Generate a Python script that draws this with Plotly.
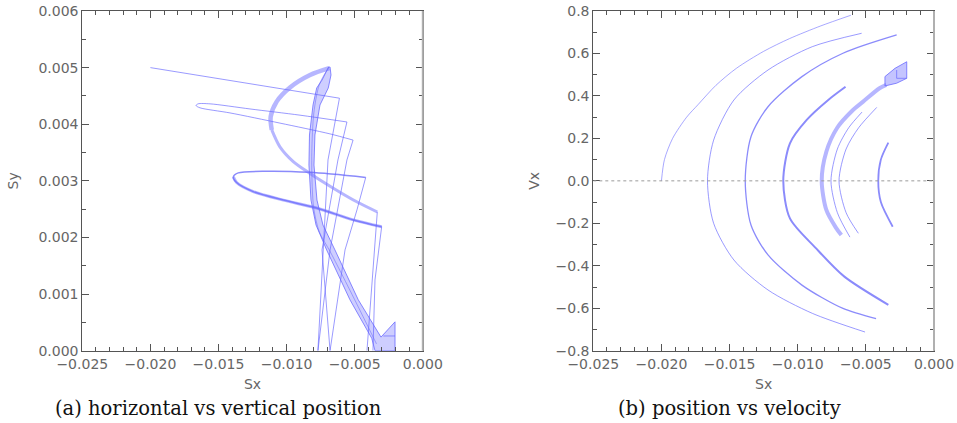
import plotly.graph_objects as go

# ---------------- Panel (a): horizontal vs vertical position ----------------
# thin trajectory starting at (-0.020, 0.005)
t1_sx = [-0.02000, -0.00612, -0.00696, -0.00770]
t1_sy = [0.00500, 0.00446, 0.00337, 0.0]

# thin upper loop and its two descents
loop1_sx = [-0.00557, -0.00902, -0.01269, -0.01562, -0.01650, -0.01665, -0.01636, -0.01416, -0.01049, -0.00682, -0.00512]
loop1_sy = [0.00404, 0.00416, 0.00427, 0.00436, 0.00436, 0.00433, 0.00429, 0.00420, 0.00402, 0.00383, 0.00372]
desc2_sx = [-0.00557, -0.00623, -0.00740, -0.00681]
desc2_sy = [0.00404, 0.00337, 0.00178, 0.0]
desc3_sx = [-0.00512, -0.00557, -0.00681, -0.00770]
desc3_sy = [0.00372, 0.00337, 0.00178, 0.0]

# thick "C" band from the peak, and its descent
c_top_sx = [-0.00687, -0.00828, -0.00975, -0.01073, -0.01117, -0.01109]
c_top_sy = [0.00499, 0.00487, 0.00465, 0.00440, 0.00413, 0.00390]
c_mid_sx = [-0.01109, -0.01049, -0.00951, -0.00828, -0.00657, -0.00485, -0.00334]
c_mid_sy = [0.00390, 0.00360, 0.00334, 0.00313, 0.00287, 0.00263, 0.00245]
c_down_sx = [-0.00334, -0.00373, -0.00410]
c_down_sy = [0.00245, 0.00125, 0.0]

# lower loop and its descents
loop2_sx = [-0.00419, -0.00828, -0.01146, -0.01355, -0.01391, -0.01367, -0.01245, -0.01024, -0.00779, -0.00510, -0.00302]
loop2_sy = [0.00306, 0.00315, 0.00317, 0.00314, 0.00307, 0.00297, 0.00281, 0.00266, 0.00252, 0.00231, 0.00219]
loop2_thick_sx = [-0.01391, -0.01367, -0.01245, -0.01024, -0.00779, -0.00510, -0.00302]
loop2_thick_sy = [0.00307, 0.00297, 0.00281, 0.00266, 0.00252, 0.00231, 0.00219]
desc4_sx = [-0.00419, -0.00483, -0.00571, -0.00681]
desc4_sy = [0.00306, 0.00249, 0.00178, 0.0]
desc6_sx = [-0.00302, -0.00351, -0.00366]
desc6_sy = [0.00219, 0.00125, 0.0]

# broad falling band (outline) ending in the filled corner
band_sx = [-0.00692, -0.00740, -0.00779, -0.00806, -0.00832, -0.00836, -0.00821, -0.00784, -0.00706,
           -0.00535, -0.00375, -0.00351, -0.00204, -0.00204, -0.00307, -0.00474, -0.00645, -0.00733,
           -0.00777, -0.00799, -0.00792, -0.00755, -0.00694, -0.00674, -0.00681, -0.00692]
band_sy = [0.00501, 0.00478, 0.00464, 0.00434, 0.00381, 0.00328, 0.00266, 0.00222, 0.00178,
           0.00090, 0.00022, 0.0, 0.0, 0.00051, 0.00024, 0.00090, 0.00178, 0.00222,
           0.00266, 0.00328, 0.00381, 0.00434, 0.00464, 0.00487, 0.00501, 0.00501]
band_mid_sx = [-0.00690, -0.00760, -0.00800, -0.00815, -0.00812, -0.00800, -0.00760, -0.00680, -0.00500, -0.00340]
band_mid_sy = [0.00501, 0.00470, 0.00420, 0.00350, 0.00290, 0.00250, 0.00210, 0.00175, 0.00090, 0.00012]
corner_sx = [-0.00290, -0.00204]
corner_sy = [0.00026, 0.00026]

# ---------------- Panel (b): position vs velocity ----------------
arcA_sx = [-0.02000, -0.01978, -0.01918, -0.01815, -0.01730, -0.01600, -0.01450, -0.01250, -0.01060, -0.00830, -0.00610]
arcA_vx = [0.0, 0.10, 0.20, 0.30, 0.36, 0.45, 0.53, 0.61, 0.67, 0.73, 0.78]

arcB_sx = [-0.00531, -0.00893, -0.01218, -0.01468, -0.01617, -0.01662, -0.01617, -0.01468, -0.01218, -0.00893, -0.00506]
arcB_vx = [0.695, 0.632, 0.522, 0.381, 0.192, 0.0, -0.200, -0.373, -0.514, -0.624, -0.712]

arcC_sx = [-0.00274, -0.00668, -0.00969, -0.01218, -0.01343, -0.01385, -0.01343, -0.01218, -0.00969, -0.00668, -0.00425]
arcC_vx = [0.687, 0.601, 0.491, 0.349, 0.208, 0.0, -0.208, -0.349, -0.491, -0.601, -0.649]

arcD_sx = [-0.00649, -0.00776, -0.00934, -0.01057, -0.01106, -0.01057, -0.00865, -0.00660, -0.00335]
arcD_vx = [0.443, 0.381, 0.287, 0.177, 0.0, -0.177, -0.318, -0.450, -0.584]

arcE_sx = [-0.00680, -0.00720, -0.00790, -0.00824, -0.00790, -0.00710, -0.00600, -0.00520, -0.00400, -0.00350]
arcE_vx = [-0.255, -0.220, -0.137, 0.0, 0.137, 0.250, 0.330, 0.373, 0.436, 0.452]

arcF_sx = [-0.00528, -0.00626, -0.00709, -0.00756, -0.00709, -0.00617]
arcF_vx = [0.324, 0.250, 0.150, 0.0, -0.150, -0.265]

arcG_sx = [-0.00420, -0.00553, -0.00645, -0.00697, -0.00645, -0.00555]
arcG_vx = [0.346, 0.250, 0.150, 0.0, -0.150, -0.247]

arcH_sx = [-0.00335, -0.00390, -0.00409, -0.00390, -0.00303]
arcH_vx = [0.180, 0.100, 0.0, -0.100, -0.216]

blob_sx = [-0.00360, -0.00360, -0.00286, -0.00200, -0.00200, -0.00274, -0.00360]
blob_vx = [0.447, 0.491, 0.530, 0.561, 0.483, 0.460, 0.447]
blob_l_sx = [-0.00274, -0.00274, -0.00200]
blob_l_vx = [0.522, 0.483, 0.483]

THIN = 'rgba(100,100,255,0.65)'
MID = 'rgba(100,100,250,0.75)'
HATCH = 'rgba(110,110,255,0.5)'

W, H = 957, 423


def px_x(p):
    return p / W


def px_y(p):
    return 1 - p / H


fig = go.Figure()


def add_line(xs, ys, width, color, axes='1', shape='linear'):
    fig.add_trace(go.Scatter(
        x=xs, y=ys, mode='lines', line=dict(color=color, width=width, shape=shape, smoothing=0.8),
        xaxis='x' if axes == '1' else 'x2', yaxis='y' if axes == '1' else 'y2',
        showlegend=False, hoverinfo='skip'))


# panel (a)
fig.add_trace(go.Scatter(x=band_sx, y=band_sy, mode='lines', fill='toself',
                         fillcolor='rgba(125,125,255,0.38)',
                         line=dict(color='rgba(100,100,255,0.75)', width=1),
                         showlegend=False, hoverinfo='skip'))
add_line(band_mid_sx, band_mid_sy, 1, 'rgba(100,100,250,0.5)', shape='spline')
add_line(corner_sx, corner_sy, 1, THIN)
add_line(t1_sx, t1_sy, 1, THIN)
add_line(loop1_sx, loop1_sy, 1, THIN, shape='spline')
add_line(desc2_sx, desc2_sy, 1, THIN)
add_line(desc3_sx, desc3_sy, 1, THIN)
add_line(loop2_sx, loop2_sy, 1.5, MID, shape='spline')
add_line(loop2_thick_sx, loop2_thick_sy, 3, HATCH, shape='spline')
add_line(desc4_sx, desc4_sy, 1, THIN)
add_line(desc6_sx, desc6_sy, 1, THIN)
add_line(c_top_sx, c_top_sy, 4.5, HATCH, shape='spline')
add_line(c_mid_sx, c_mid_sy, 3, HATCH, shape='spline')
add_line(c_down_sx, c_down_sy, 1, THIN)

# panel (b)
fig.add_trace(go.Scatter(x=blob_sx, y=blob_vx, mode='lines', fill='toself',
                         fillcolor='rgba(125,125,255,0.45)',
                         line=dict(color='rgba(100,100,255,0.75)', width=1),
                         xaxis='x2', yaxis='y2', showlegend=False, hoverinfo='skip'))
add_line(blob_l_sx, blob_l_vx, 1, THIN, '2')
add_line(arcA_sx, arcA_vx, 1, 'rgba(110,110,255,0.6)', '2', 'spline')
add_line(arcB_sx, arcB_vx, 1, THIN, '2', 'spline')
add_line(arcC_sx, arcC_vx, 1.3, MID, '2', 'spline')
add_line(arcD_sx, arcD_vx, 2, MID, '2', 'spline')
add_line(arcE_sx, arcE_vx, 4, HATCH, '2', 'spline')
add_line(arcF_sx, arcF_vx, 1, THIN, '2', 'spline')
add_line(arcG_sx, arcG_vx, 1, THIN, '2', 'spline')
add_line(arcH_sx, arcH_vx, 1.8, MID, '2', 'spline')

AX = '#555555'
TICKFONT = dict(family='DejaVu Sans', size=14, color='#666666')


def axis(domain, rng, dtick, minor, fmt, title, standoff, anchor):
    return dict(domain=domain, range=rng, dtick=dtick, tick0=rng[0], tickformat=fmt,
                showline=True, linecolor=AX, linewidth=1, mirror='ticks',
                ticks='inside', ticklen=7, tickcolor=AX, tickwidth=1,
                ticklabeloverflow='allow',
                minor=dict(ticks='inside', ticklen=4, tickcolor=AX, dtick=minor, tick0=rng[0]),
                showgrid=False, zeroline=False, tickfont=TICKFONT, anchor=anchor,
                title=dict(text=title, font=dict(family='DejaVu Sans', size=14, color='#666666'),
                           standoff=standoff))


fig.update_layout(
    width=W, height=H,
    margin=dict(l=0, r=0, t=0, b=0, autoexpand=False),
    paper_bgcolor='white', plot_bgcolor='white',
    xaxis=axis([px_x(82.3), px_x(422.8)], [-0.025, 0.0], 0.005, 0.001, '.3f', 'Sx', 8, 'y'),
    yaxis=axis([px_y(350.7), px_y(11)], [0.0, 0.006], 0.001, 0.0005, '.3f', 'Sy', 16, 'x'),
    xaxis2=axis([px_x(593.3), px_x(934)], [-0.025, 0.0], 0.005, 0.001, '.3f', 'Sx', 8, 'y2'),
    yaxis2=axis([px_y(350.7), px_y(11)], [-0.8, 0.8], 0.2, 0.1, '.1f', 'Vx', 12, 'x2'),
    shapes=[
        dict(type='line', xref='x2', yref='y2', x0=-0.025, x1=0.0, y0=0, y1=0,
             line=dict(color='#9a9a9a', width=1, dash='dot')),
        dict(type='line', xref='x domain', yref='y domain', x0=1, x1=1, y0=0, y1=1,
             line=dict(color='#b0b0b0', width=2)),
        dict(type='line', xref='x2 domain', yref='y2 domain', x0=1, x1=1, y0=0, y1=1,
             line=dict(color='#b0b0b0', width=2)),
    ],
    annotations=[
        dict(text='(a) horizontal vs vertical position', xref='paper', yref='paper',
             x=px_x(218.5), y=px_y(408), showarrow=False, xanchor='center', yanchor='middle',
             font=dict(family='DejaVu Serif', size=19.5, color='#111111')),
        dict(text='(b) position vs velocity', xref='paper', yref='paper',
             x=px_x(729), y=px_y(408), showarrow=False, xanchor='center', yanchor='middle',
             font=dict(family='DejaVu Serif', size=19.5, color='#111111')),
    ],
)

# remove the browser's default 8px body margin so the 957x423 figure fills the window exactly
fig.write_html('out.html', config={'displayModeBar': False},
               post_script="document.body.style.margin='0px';")
